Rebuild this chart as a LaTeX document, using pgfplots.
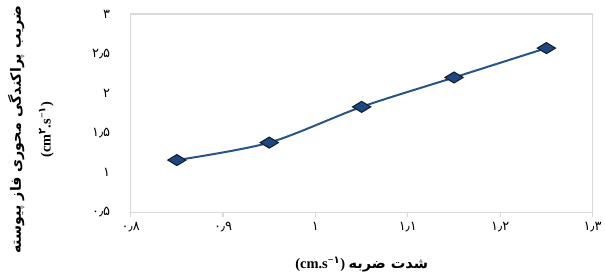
\documentclass[border=0pt]{standalone}
\usepackage{fontspec}
\setmainfont{Liberation Serif}
\newfontfamily\arabicfont[Script=Arabic]{DejaVu Sans}
\TeXXeTstate=1
\usepackage{pgfplots}
\pgfplotsset{compat=1.18}
\definecolor{linec}{RGB}{38,84,134}
\definecolor{markc}{RGB}{30,70,128}
\definecolor{markd}{RGB}{20,28,45}
\definecolor{boxc}{RGB}{217,217,217}
\begin{document}
\begin{tikzpicture}
\begin{axis}[
  scale only axis, width=463pt, height=199pt,
  xmin=0.8, xmax=1.3, ymin=0.5, ymax=3,
  xtick={0.8,0.9,1,1.1,1.2,1.3},
  xticklabels={۰٫۸,۰٫۹,۱,۱٫۱,۱٫۲,۱٫۳},
  ytick={0.5,1,1.5,2,2.5,3},
  yticklabels={۰٫۵,۱,۱٫۵,۲,۲٫۵,۳},
  axis line style={boxc, line width=1.2pt},
  xtick pos=lower, ytick pos=left,
  tick align=outside, major tick length=5pt,
  x tick style={boxc, line width=1.2pt},
  y tick style={draw=none},
  ticklabel style={font=\arabicfont\fontsize{13}{14}\selectfont},
  yticklabel style={xshift=-12pt},
  xticklabel style={yshift=-1pt},
  clip=false,
  ylabel={{\arabicfont\bfseries\beginR ضریب پراکندگی محوری فاز پیوسته\endR}\\{\bfseries (cm\textsuperscript{\arabicfont ۲}.s\textsuperscript{−{\arabicfont ۱}})}},
  ylabel style={align=center, inner sep=1pt, font=\fontsize{14.3}{30}\selectfont, at={(axis description cs:-0.164,0.417)}, anchor=south},
  xlabel={{\bfseries (cm.s\textsuperscript{−{\arabicfont ۱}})} {\arabicfont\bfseries\beginR شدت ضربه\endR}},
  xlabel style={font=\fontsize{14.5}{16}\selectfont, at={(axis description cs:0.5,-0.261)}, anchor=center},
]
\addplot[color=linec, line width=2pt, smooth, tension=0.5,
  mark=diamond*, mark size=5.5pt,
  mark options={xscale=2.2, fill=markc, draw=markd, line width=1.1pt}]
  coordinates {(0.85,1.16) (0.95,1.38) (1.05,1.83) (1.15,2.2) (1.25,2.57)};
\end{axis}
\path ([xshift=-131pt,yshift=-61pt]current axis.south west) rectangle ([xshift=11pt,yshift=14pt]current axis.north east);
\end{tikzpicture}
\end{document}
